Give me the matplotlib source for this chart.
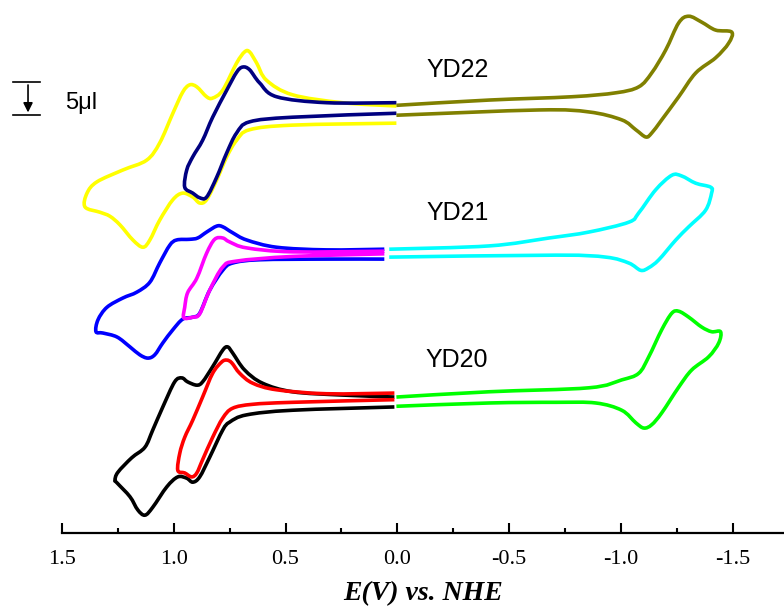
import numpy as np
import matplotlib
matplotlib.use("Agg")
import matplotlib.pyplot as plt
from matplotlib.path import Path
from matplotlib.patches import PathPatch
from matplotlib.ticker import MultipleLocator

# potentials (V vs NHE) and currents (uA, offset per dye)
# YD20
e_yd20_wide = [0.013, 0.469, 0.674, 0.750, 0.781, 0.839, 0.884, 0.915, 0.942, 0.982, 1.031, 1.094, 1.129,
               1.161, 1.196, 1.254, 1.263, 1.250, 1.188, 1.129, 1.094, 1.049, 0.996, 0.964, 0.938, 0.897,
               0.871, 0.826, 0.781, 0.759, 0.737, 0.683, 0.603, 0.469, 0.246, 0.013]
i_yd20_wide = [19.1, 18.6, 17.9, 16.8, 15.6, 11.5, 8.5, 7.7, 8.3, 8.5, 7.0, 3.9, 2.7,
               3.5, 5.5, 7.6, 8.0, 9.2, 11.4, 13.0, 15.6, 19.1, 22.9, 23.5, 22.9, 22.4,
               22.9, 25.2, 27.7, 28.2, 27.3, 24.7, 22.7, 21.4, 20.9, 20.6]
e_yd20_first = [0.013, 0.317, 0.540, 0.647, 0.705, 0.741, 0.763, 0.786, 0.826, 0.871, 0.915, 0.951,
                0.973, 0.982, 0.951, 0.920, 0.897, 0.871, 0.826, 0.781, 0.737, 0.647, 0.469, 0.013]
i_yd20_first = [21.2, 21.1, 21.7, 22.7, 24.2, 25.8, 26.2, 25.9, 24.2, 20.6, 17.1, 14.5,
                12.1, 9.5, 9.1, 8.5, 9.1, 11.1, 14.5, 17.4, 18.9, 19.5, 19.8, 20.2]
e_yd20_red = [0.004, -0.411, -0.857, -1.004, -1.080, -1.125, -1.183, -1.228, -1.259, -1.304, -1.362,
              -1.406, -1.446, -1.438, -1.393, -1.317, -1.259, -1.183, -1.138, -1.103, -1.067, -1.004,
              -0.888, -0.710, -0.411, 0.004]
i_yd20_red = [20.6, 21.4, 22.0, 23.2, 24.2, 26.7, 30.8, 33.3, 33.6, 32.7, 31.2,
              30.5, 30.5, 28.8, 26.7, 24.7, 22.1, 18.2, 16.4, 15.9, 16.7, 18.6,
              19.7, 19.8, 19.7, 19.2]

# YD21
e_yd21_wide = [0.058, 0.317, 0.540, 0.674, 0.737, 0.781, 0.808, 0.853, 0.893, 0.929, 0.987, 1.018,
               1.063, 1.107, 1.165, 1.228, 1.299, 1.339, 1.348, 1.317, 1.254, 1.196, 1.152, 1.116,
               1.085, 1.049, 1.004, 0.960, 0.915, 0.884, 0.839, 0.781, 0.737, 0.616, 0.317, 0.058]
i_yd21_wide = [43.0, 42.9, 43.3, 44.4, 45.5, 46.4, 46.5, 45.6, 44.7, 44.5, 44.4, 43.6,
               40.9, 38.0, 36.5, 35.6, 34.2, 32.3, 30.5, 30.3, 29.7, 28.2, 27.0, 26.5,
               27.0, 28.8, 30.8, 32.4, 32.7, 33.3, 36.8, 39.8, 40.9, 41.4, 41.5, 41.5]
e_yd21_first = [0.058, 0.469, 0.674, 0.750, 0.781, 0.817, 0.853, 0.897, 0.938, 0.951, 0.955, 0.915,
                0.884, 0.839, 0.781, 0.719, 0.469, 0.058]
i_yd21_first = [42.7, 42.6, 43.2, 44.1, 44.7, 44.5, 42.4, 38.6, 36.4, 34.2, 32.6, 32.7,
                33.2, 36.8, 40.3, 41.2, 41.9, 42.3]
e_yd21_red = [0.036, -0.411, -0.679, -0.857, -1.036, -1.080, -1.156, -1.228, -1.272, -1.335, -1.402,
              -1.406, -1.379, -1.304, -1.246, -1.170, -1.125, -1.089, -1.036, -0.933, -0.710, 0.036]
i_yd21_red = [43.0, 43.5, 44.7, 45.6, 47.1, 48.5, 52.0, 54.2, 54.1, 53.0, 52.4,
              51.5, 48.9, 46.4, 44.4, 41.4, 40.2, 39.8, 40.9, 41.8, 42.1, 41.8]

# YD22
e_yd22_wide = [0.004, 0.246, 0.469, 0.585, 0.629, 0.661, 0.683, 0.719, 0.781, 0.826, 0.853, 0.897,
               0.929, 0.960, 1.004, 1.063, 1.121, 1.228, 1.344, 1.388, 1.397, 1.330, 1.286, 1.241,
               1.183, 1.138, 1.107, 1.063, 1.004, 0.960, 0.915, 0.884, 0.853, 0.808, 0.763, 0.719,
               0.661, 0.469, 0.004]
i_yd22_wide = [64.7, 65.2, 66.4, 68.6, 71.2, 72.9, 72.9, 71.2, 67.1, 65.9, 66.1, 67.6,
               67.9, 66.8, 63.6, 59.1, 56.5, 55.0, 53.2, 51.5, 49.4, 48.6, 48.0, 46.7,
               44.4, 43.3, 44.4, 47.4, 50.5, 51.5, 50.9, 50.0, 50.5, 53.5, 57.0, 59.5,
               61.1, 61.8, 62.1]
e_yd22_first = [0.004, 0.317, 0.540, 0.616, 0.661, 0.692, 0.719, 0.763, 0.826, 0.871, 0.915, 0.942,
                0.951, 0.915, 0.884, 0.853, 0.808, 0.763, 0.719, 0.661, 0.469, 0.004]
i_yd22_first = [65.2, 65.2, 66.1, 68.2, 70.2, 70.6, 69.8, 67.1, 63.0, 59.5, 57.0, 55.0,
                52.4, 51.5, 50.8, 50.9, 53.9, 57.6, 60.6, 62.3, 63.0, 63.6]
e_yd22_red = [0.004, -0.411, -0.781, -0.978, -1.080, -1.138, -1.201, -1.259, -1.304, -1.362, -1.424,
              -1.496, -1.482, -1.424, -1.335, -1.259, -1.183, -1.138, -1.112, -1.067, -1.004, -0.857,
              -0.634, 0.004]
i_yd22_red = [64.8, 65.6, 66.1, 66.7, 67.6, 69.7, 73.2, 77.3, 78.3, 77.4, 76.2,
              75.9, 74.2, 72.0, 69.7, 66.1, 62.6, 60.6, 60.0, 61.1, 62.6, 63.8,
              64.1, 63.3]

dye_names = ["YD22", "YD21", "YD20"]
dye_label_y = [70.2, 48.5, 26.2]


def smooth_path(xs, ys):
    # cubic bezier through every read point (catmull-rom tangents), drawn by matplotlib
    p = np.column_stack([xs, ys]).astype(float)
    n = len(p)
    verts = [p[0]]
    codes = [Path.MOVETO]
    for k in range(n - 1):
        p0 = p[k - 1] if k > 0 else p[k]
        p3 = p[k + 2] if k + 2 < n else p[k + 1]
        c1 = p[k] + (p[k + 1] - p0) / 6.0
        c2 = p[k + 1] - (p3 - p[k]) / 6.0
        verts += [c1, c2, p[k + 1]]
        codes += [Path.CURVE4] * 3
    return Path(verts, codes)


plt.rcParams['font.family'] = ['Liberation Sans', 'DejaVu Sans']

fig = plt.figure(figsize=(7.84, 6.14), dpi=100)
ax = fig.add_axes([62 / 784, 81 / 614, 1 - 62 / 784, 1 - 81 / 614])

lw = 2.6
curves = [
    (e_yd22_wide, i_yd22_wide, "#FFFF00"),
    (e_yd22_first, i_yd22_first, "#000080"),
    (e_yd22_red, i_yd22_red, "#808000"),
    (e_yd21_wide, i_yd21_wide, "#0000FF"),
    (e_yd21_first, i_yd21_first, "#FF00FF"),
    (e_yd21_red, i_yd21_red, "#00FFFF"),
    (e_yd20_wide, i_yd20_wide, "#000000"),
    (e_yd20_first, i_yd20_first, "#FF0000"),
    (e_yd20_red, i_yd20_red, "#00FF00"),
]
for e, i, c in curves:
    ax.add_patch(PathPatch(smooth_path(e, i), facecolor='none', edgecolor=c, lw=lw,
                           joinstyle='round', capstyle='butt'))

for name, y in zip(dye_names, dye_label_y):
    ax.text(-0.268, y, name, fontsize=18, ha='center', va='center')

ax.set_xlim(1.5, -1.73)
ax.set_ylim(0, 80.76)

for s in ['top', 'left', 'right']:
    ax.spines[s].set_visible(False)
ax.spines['bottom'].set_linewidth(1.6)
ax.set_yticks([])
ax.xaxis.set_major_locator(MultipleLocator(0.5))
ax.xaxis.set_minor_locator(MultipleLocator(0.25))
ax.tick_params(axis='x', which='major', direction='in', length=7.5, width=1.5, pad=12)
ax.tick_params(axis='x', which='minor', direction='in', length=3.8, width=1.5)
ax.set_xticks([1.5, 1.0, 0.5, 0.0, -0.5, -1.0, -1.5])
ax.set_xticklabels(["1.5", "1.0", "0.5", "0.0", "-0.5", "-1.0", "-1.5"],
                   family='Liberation Serif', fontsize=16)
ax.set_xlabel("E(V) vs. NHE", family='Liberation Serif', fontsize=20,
              fontweight='bold', fontstyle='italic', labelpad=9)

# 5 uA scale bar
ax.plot([1.719, 1.598], [68.3, 68.3], color='black', lw=1.2, clip_on=False)
ax.plot([1.719, 1.598], [63.3, 63.3], color='black', lw=1.2, clip_on=False)
ax.annotate("", xy=(1.652, 63.3), xytext=(1.652, 68.3),
            arrowprops=dict(arrowstyle='-|>', color='black', lw=1.2, mutation_scale=14),
            annotation_clip=False)
ax.text(1.487, 65.2, "5\u03bcl", fontsize=17, ha='left', va='center')

fig.savefig("out.png", dpi=100)
